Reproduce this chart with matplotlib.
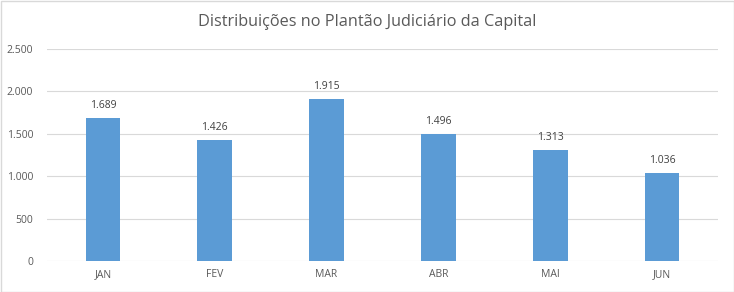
import matplotlib
matplotlib.use("Agg")
import matplotlib.pyplot as plt
from matplotlib.patches import Rectangle

months = ["JAN", "FEV", "MAR", "ABR", "MAI", "JUN"]
values = [1689, 1426, 1915, 1496, 1313, 1036]
yticks = [0, 500, 1000, 1500, 2000, 2500]
title = "Distribuições no Plantão Judiciário da Capital"

def fmt(v):
    return f"{v:,}".replace(",", ".")

plt.rcParams['font.family'] = ['Open Sans', 'DejaVu Sans']
W, H = 734, 292
fig = plt.figure(figsize=(W/100, H/100), dpi=100)
ax = fig.add_axes([47/W, (H-261)/H, (718-47)/W, (261-49)/H])

x = list(range(len(months)))
ax.bar(x, values, width=0.31, color="#5B9BD5", zorder=3)
for xi, v in zip(x, values):
    ax.annotate(fmt(v), (xi, v), xytext=(0, 5), textcoords="offset points",
                ha="center", va="bottom", fontsize=7.5, color="#404040")

ax.set_xlim(-0.5, len(months) - 0.5)
ax.set_ylim(0, 2500)
ax.set_yticks(yticks)
ax.set_yticklabels([fmt(t) for t in yticks], fontsize=7.5, color="#595959")
ax.set_xticks(x)
ax.set_xticklabels(months, fontsize=7.5, color="#595959")
ax.tick_params(length=0, pad=6)
ax.tick_params(axis='y', pad=10)
ax.grid(axis='y', color="#D9D9D9", linewidth=0.8, zorder=0)
for s in ax.spines.values():
    s.set_visible(False)

fig.text(0.5, 1 - 22/H, title, ha="center", va="center", fontsize=11.7, color="#595959")
fig.patches.append(Rectangle((0.5/W, 0.5/H), 1 - 1/W, 1 - 1/H, transform=fig.transFigure,
                             fill=False, edgecolor="#D9D9D9", linewidth=1))

fig.savefig("out.png", dpi=100)
